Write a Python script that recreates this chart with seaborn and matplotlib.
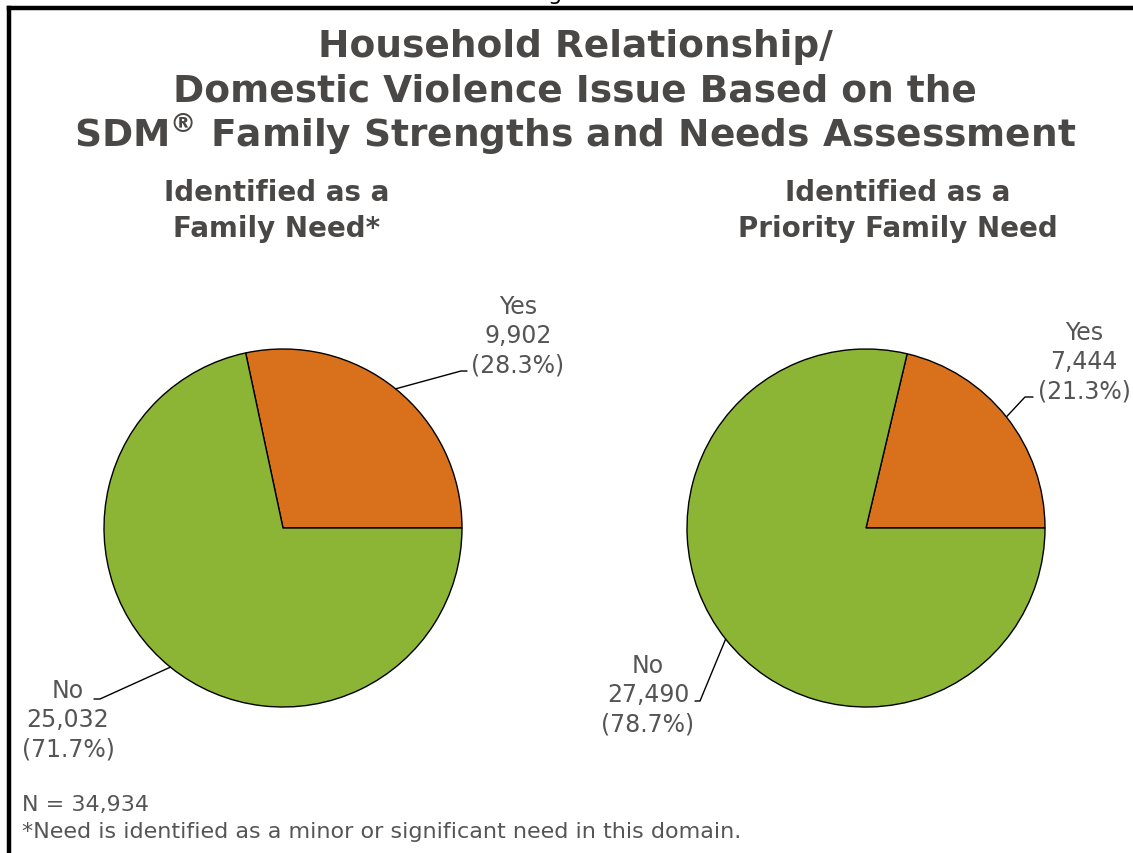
import numpy as np
import matplotlib
matplotlib.use("Agg")
import matplotlib.pyplot as plt
import seaborn as sns
from matplotlib.lines import Line2D

sns.set_theme(style="white")
plt.rcParams['font.family'] = ['DejaVu Sans']

# DATOS
categorias = ["Yes", "No"]
need_counts = [9902, 25032]
priority_counts = [7444, 27490]
subtitulos = ["Identified as a\nFamily Need*", "Identified as a\nPriority Family Need"]
titulo_lineas = ["Household Relationship/",
                 "Domestic Violence Issue Based on the",
                 "SDM$^{\\mathregular{\u00ae}}$ Family Strengths and Needs Assessment"]
total_n = 34934
nota = "*Need is identified as a minor or significant need in this domain."

colores = ["#D9711C", "#8CB535"]
gris_titulo = "#4a4846"
gris_texto = "#555555"

W, H = 1133, 854
fig = plt.figure(figsize=(W / 100, H / 100), dpi=100)

R = 179


def eje_pie(cx, cy):
    # ejes en pixeles, origen arriba a la izquierda
    return fig.add_axes([(cx - R) / W, (H - cy - R) / H, 2 * R / W, 2 * R / H])


# offsets (px) de la etiqueta y del codo de la linea para cada sector
layout = [
    {"centro": (283, 529),
     "texto": [(235, 193), (-215, -191)],
     "codo": [(178, 157), (-183, -171)],
     "fin": [(184, 157), (-189, -171)]},
    {"centro": (866, 529),
     "texto": [(218, 167), (-218, -166)],
     "codo": [(159, 131), (-166, -173)],
     "fin": [(167, 131), (-171, -173)]},
]

for valores, sub, lay in zip([need_counts, priority_counts], subtitulos, layout):
    ax = eje_pie(*lay["centro"])
    wedges, _ = ax.pie(
        valores,
        colors=colores,
        startangle=0,
        counterclock=True,
        radius=1,
        wedgeprops=dict(edgecolor="black", linewidth=1),
    )
    ax.set_xlim(-1, 1)
    ax.set_ylim(-1, 1)
    ax.set_aspect("equal")
    ax.axis("off")

    total = sum(valores)
    for i, w in enumerate(wedges):
        ang = np.deg2rad((w.theta1 + w.theta2) / 2)
        x0, y0 = np.cos(ang), np.sin(ang)
        cx, cy = lay["codo"][i]
        fx, fy = lay["fin"][i]
        ax.plot([x0, cx / R, fx / R], [y0, cy / R, fy / R],
                color="black", lw=1, clip_on=False)
        tx, ty = lay["texto"][i]
        etiqueta = f"{categorias[i]}\n{valores[i]:,}\n({valores[i] / total * 100:.1f}%)"
        ax.text(tx / R, ty / R, etiqueta, ha="center", va="center",
                fontsize=17, color=gris_texto, linespacing=1.27)

# subtitulos
fig.text(277 / W, 1 - 211 / H, subtitulos[0], ha="center", va="center",
         fontsize=20, fontweight="bold", color=gris_titulo, linespacing=1.32)
fig.text(898 / W, 1 - 211 / H, subtitulos[1], ha="center", va="center",
         fontsize=20, fontweight="bold", color=gris_titulo, linespacing=1.32)

# titulo principal, una linea a la vez (linea base en px)
for linea, base in zip(titulo_lineas, [57, 102, 147]):
    fig.text(575 / W, 1 - base / H, linea, ha="center", va="baseline",
             fontsize=27, fontweight="bold", color=gris_titulo)

# notas
fig.text(22 / W, 1 - 805 / H, f"N = {total_n:,}", ha="left", va="center",
         fontsize=16, color=gris_texto)
fig.text(22 / W, 1 - 832 / H, nota, ha="left", va="center",
         fontsize=16, color=gris_texto)

# fragmento de texto cortado arriba
fig.text(555 / W, 1.0, "g", ha="center", va="baseline", fontsize=16, color="black")

# marco
fig.add_artist(Line2D([9 / W, 1], [1 - 9 / H, 1 - 9 / H], color="black", lw=3.2,
                      transform=fig.transFigure, solid_capstyle="projecting"))
fig.add_artist(Line2D([9 / W, 9 / W], [1 - 9 / H, 0], color="black", lw=3.2,
                      transform=fig.transFigure, solid_capstyle="projecting"))

fig.savefig("out.png", dpi=100, facecolor="white")
